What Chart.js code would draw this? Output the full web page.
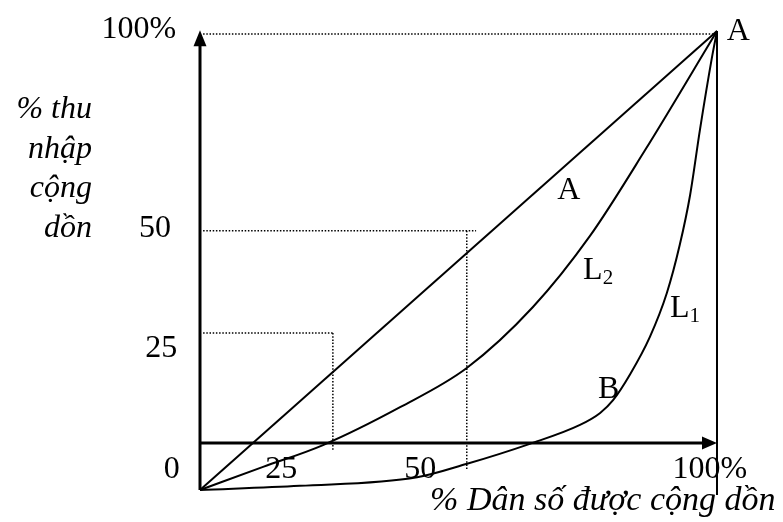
<!DOCTYPE html>
<html>
<head>
<meta charset="utf-8">
<script src="https://cdn.jsdelivr.net/npm/chart.js@4.4.0/dist/chart.umd.min.js"></script>
<style>
  body { margin: 0; background: #fff; }
  canvas { display: block; }
</style>
</head>
<body>
<canvas id="lorenz" width="783" height="522"></canvas>
<script>
// Đường bình đẳng tuyệt đối (đường chéo tới A)
const diagX = [0, 100];
const diagY = [-11.4, 100];
// Đường Lorenz L2
const l2X = [0, 12.2, 23.8, 38.7, 51.6, 64.4, 75.4, 86.1, 100];
const l2Y = [-11.4, -5.8, -0.5, 8.7, 18.2, 33.0, 50.2, 71.1, 100];
// Đường Lorenz L1
const l1X = [0, 19.3, 42.0, 51.5, 63.8, 73.5, 77.4, 79.9, 83.2, 87.0, 90.3, 92.8, 94.8, 96.7, 99.0, 100];
const l1Y = [-11.4, -10.4, -8.3, -5.1, -0.2, 4.4, 7.3, 10.4, 16.7, 25.7, 36.4, 48.1, 60.2, 76.0, 93.4, 100];
// Đường gióng chấm chấm (25 và 50)
const guideX = [25.7, 51.6];
const guideY = [26.7, 51.5];
const guideEndX = [25.7, 53.4];
const guideBottom = [-1.7, -6.6];
// Nhãn trục
const yTicks = ['100%', '50', '25', '0'];
const xTicks = ['25', '50', '100%'];
const yTitle = ['% thu', 'nhập', 'cộng', 'dồn'];
const xTitle = '% Dân số được cộng dồn';

const toPts = (xs, ys) => xs.map((v, i) => ({ x: v, y: ys[i] }));

const solid = (data, width) => ({
  data,
  borderColor: '#000',
  borderWidth: width,
  pointRadius: 0,
  showLine: true,
  fill: false,
});
const dotted = (data) => ({
  data,
  borderColor: '#000',
  borderWidth: 1.5,
  borderDash: [1.5, 1.7],
  pointRadius: 0,
  showLine: true,
  fill: false,
});

const datasets = [];
// trục
datasets.push(solid([{ x: 0, y: -11.4 }, { x: 0, y: 99 }], 3));
datasets.push(solid([{ x: 0, y: 0 }, { x: 98.5, y: 0 }], 3));
datasets.push(solid([{ x: 100, y: -12.6 }, { x: 100, y: 100 }], 2));
// đường chấm phía trên
datasets.push(dotted([{ x: 0.6, y: 99.3 }, { x: 100, y: 99.3 }]));
guideX.forEach((gx, i) => {
  datasets.push(dotted([{ x: 0.6, y: guideY[i] }, { x: guideEndX[i], y: guideY[i] }]));
  datasets.push(dotted([{ x: gx, y: guideY[i] }, { x: gx, y: guideBottom[i] }]));
});
// các đường cong
datasets.push(solid(toPts(diagX, diagY), 2));
datasets.push({ ...solid(toPts(l2X, l2Y), 2), cubicInterpolationMode: 'monotone' });
datasets.push({ ...solid(toPts(l1X, l1Y), 2), cubicInterpolationMode: 'monotone' });

const serif = '"Liberation Serif", "Times New Roman", serif';

// vẽ chữ và mũi tên theo toạ độ dữ liệu
const textPlugin = {
  id: 'lorenzText',
  afterDatasetsDraw(chart) {
    const { ctx, scales: { x, y } } = chart;
    const px = (v) => x.getPixelForValue(v);
    const py = (v) => y.getPixelForValue(v);
    ctx.save();
    ctx.fillStyle = '#000';

    // mũi tên trục tung
    const tx = px(0), ty = py(100.2);
    ctx.beginPath();
    ctx.moveTo(tx, ty);
    ctx.lineTo(tx - 6.5, ty + 16);
    ctx.lineTo(tx + 6.5, ty + 16);
    ctx.closePath();
    ctx.fill();
    // mũi tên trục hoành
    const ax = px(100), ay = py(0);
    ctx.beginPath();
    ctx.moveTo(ax, ay);
    ctx.lineTo(ax - 15, ay - 6.5);
    ctx.lineTo(ax - 15, ay + 6.5);
    ctx.closePath();
    ctx.fill();

    ctx.textBaseline = 'alphabetic';
    ctx.font = '32px ' + serif;
    // nhãn trục tung
    ctx.textAlign = 'right';
    const yTickPos = [[-4.6, 98.3], [-5.6, 50.0], [-4.4, 20.9], [-3.9, -8.5]];
    yTicks.forEach((t, i) => ctx.fillText(t, px(yTickPos[i][0]), py(yTickPos[i][1])));
    // nhãn trục hoành
    ctx.textAlign = 'center';
    const xTickPos = [15.7, 42.6, 98.6];
    xTicks.forEach((t, i) => ctx.fillText(t, px(xTickPos[i]), py(-8.5)));

    // chữ A, B, L1, L2
    ctx.textAlign = 'left';
    ctx.fillText('A', px(101.9), py(97.8));
    ctx.fillText('A', px(69.1), py(59.2));
    ctx.fillText('B', px(77.0), py(10.9));
    const sub = (main, s, xv, yv) => {
      ctx.font = '32px ' + serif;
      ctx.fillText(main, px(xv), py(yv));
      const w = ctx.measureText(main).width;
      ctx.font = '21px ' + serif;
      ctx.fillText(s, px(xv) + w, py(yv) + 5);
    };
    sub('L', '2', 74.1, 39.8);
    sub('L', '1', 90.9, 30.6);

    // tiêu đề trục
    ctx.font = 'italic 32px ' + serif;
    ctx.textAlign = 'right';
    const titleY = [78.9, 69.2, 59.6, 50.0];
    yTitle.forEach((t, i) => ctx.fillText(t, px(-20.9), py(titleY[i])));
    ctx.textAlign = 'left';
    ctx.font = 'italic 34px ' + serif;
    ctx.fillText(xTitle, px(44.5), py(-16.3));
    ctx.restore();
  },
};

new Chart(document.getElementById('lorenz'), {
  type: 'scatter',
  data: { datasets },
  options: {
    responsive: false,
    devicePixelRatio: 1,
    animation: false,
    layout: { padding: 0 },
    plugins: { legend: { display: false }, tooltip: { enabled: false } },
    scales: {
      x: { type: 'linear', display: false, min: -38.685, max: 112.766 },
      y: { type: 'linear', display: false, min: -19.175, max: 107.524 },
    },
  },
  plugins: [textPlugin],
});
</script>
</body>
</html>
